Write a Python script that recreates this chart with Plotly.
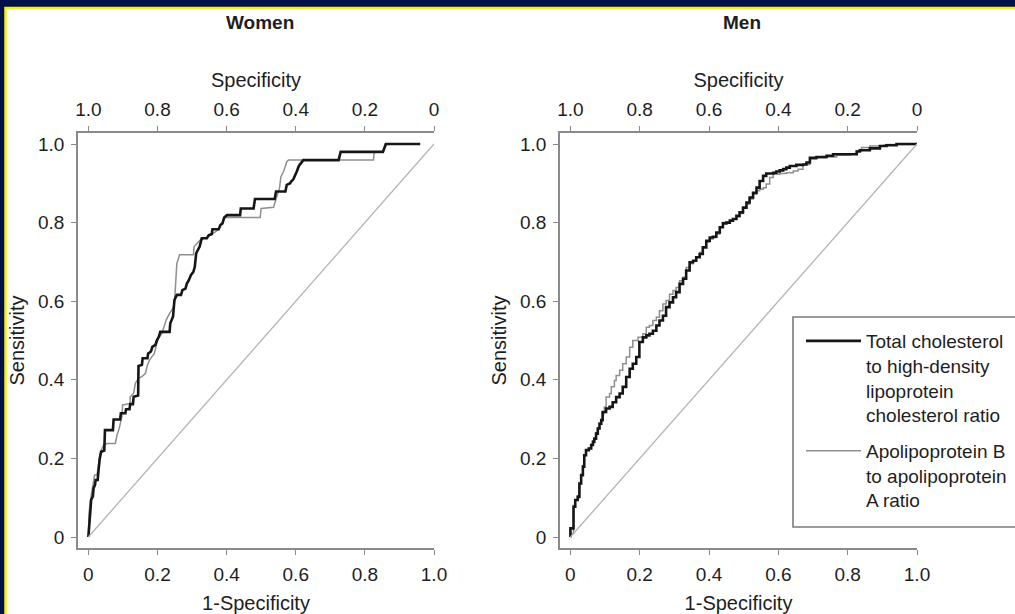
import plotly.graph_objects as go

W, H = 1015, 614

# ---------------- data ----------------
panel_titles = ["Women", "Men"]
series_names = ["Total cholesterol<br>to high-density<br>lipoprotein<br>cholesterol ratio",
                "Apolipoprotein B<br>to apolipoprotein<br>A ratio"]

tick_vals = [0, 0.2, 0.4, 0.6, 0.8, 1.0]
tick_text = ["0", "0.2", "0.4", "0.6", "0.8", "1.0"]
spec_tick_vals = [1.0, 0.8, 0.6, 0.4, 0.2, 0]
spec_tick_text = ["1.0", "0.8", "0.6", "0.4", "0.2", "0"]

# chance line in specificity / sensitivity
diag_spec = [1.0, 0.0]
diag_sens = [0.0, 1.0]

# Women: total cholesterol / HDL ratio
women_tc_fpr = [0, 0.002, 0.006, 0.008, 0.013, 0.015, 0.019, 0.021, 0.027, 0.029, 0.031, 0.033, 0.037, 0.046, 0.048,
                0.071, 0.073, 0.092, 0.094, 0.107, 0.109, 0.119, 0.121, 0.129, 0.131, 0.144, 0.145, 0.155, 0.157,
                0.171, 0.173, 0.181, 0.185, 0.194, 0.198, 0.204, 0.208, 0.235, 0.237, 0.245, 0.249, 0.256, 0.268,
                0.272, 0.281, 0.285, 0.291, 0.297, 0.304, 0.308, 0.312, 0.322, 0.328, 0.343, 0.348, 0.357, 0.359,
                0.377, 0.382, 0.388, 0.393, 0.401, 0.439, 0.441, 0.478, 0.482, 0.539, 0.543, 0.570, 0.574, 0.584,
                0.586, 0.593, 0.599, 0.603, 0.609, 0.618, 0.622, 0.724, 0.730, 0.852, 0.861, 0.960]
women_tc_tpr = [0, 0.035, 0.069, 0.094, 0.103, 0.124, 0.132, 0.145, 0.145, 0.166, 0.187, 0.200, 0.217, 0.220, 0.272,
                0.272, 0.299, 0.299, 0.315, 0.315, 0.325, 0.325, 0.338, 0.338, 0.357, 0.360, 0.435, 0.438, 0.455,
                0.455, 0.467, 0.472, 0.484, 0.489, 0.500, 0.510, 0.522, 0.522, 0.544, 0.561, 0.603, 0.616, 0.616,
                0.628, 0.632, 0.645, 0.654, 0.667, 0.675, 0.688, 0.722, 0.739, 0.760, 0.760, 0.768, 0.771, 0.783,
                0.783, 0.794, 0.798, 0.813, 0.819, 0.819, 0.836, 0.836, 0.860, 0.860, 0.879, 0.879, 0.896, 0.900,
                0.904, 0.910, 0.921, 0.930, 0.944, 0.955, 0.959, 0.959, 0.980, 0.980, 1.0, 1.0]

# Women: apolipoprotein B / A ratio
women_apo_fpr = [0, 0.002, 0.006, 0.011, 0.015, 0.018, 0.025, 0.033, 0.035, 0.044, 0.054, 0.078, 0.083, 0.088, 0.092,
                 0.097, 0.099, 0.121, 0.121, 0.131, 0.136, 0.145, 0.155, 0.165, 0.171, 0.177, 0.184, 0.191, 0.198,
                 0.203, 0.213, 0.218, 0.225, 0.235, 0.245, 0.249, 0.251, 0.256, 0.264, 0.304, 0.306, 0.314, 0.324,
                 0.343, 0.359, 0.377, 0.391, 0.396, 0.497, 0.500, 0.536, 0.540, 0.545, 0.553, 0.557, 0.565, 0.574,
                 0.579, 0.825, 0.827, 0.854, 0.858, 0.960]
women_apo_tpr = [0, 0.060, 0.094, 0.120, 0.145, 0.158, 0.158, 0.204, 0.217, 0.234, 0.238, 0.238, 0.260, 0.272, 0.289,
                 0.306, 0.336, 0.340, 0.357, 0.366, 0.391, 0.404, 0.408, 0.416, 0.438, 0.450, 0.459, 0.467, 0.493,
                 0.506, 0.518, 0.535, 0.552, 0.569, 0.582, 0.595, 0.628, 0.696, 0.718, 0.718, 0.739, 0.747, 0.756,
                 0.763, 0.771, 0.783, 0.808, 0.813, 0.813, 0.836, 0.839, 0.853, 0.866, 0.887, 0.917, 0.930, 0.955,
                 0.959, 0.959, 0.980, 0.980, 1.0, 1.0]

# Men: total cholesterol / HDL ratio
men_tc_fpr = [0, 0, 0.007, 0.009, 0.014, 0.021, 0.026, 0.031, 0.036, 0.040, 0.045, 0.053, 0.060, 0.065, 0.069,
              0.074, 0.079, 0.084, 0.089, 0.093, 0.103, 0.113, 0.122, 0.132, 0.142, 0.151, 0.161, 0.171, 0.180,
              0.190, 0.199, 0.209, 0.219, 0.228, 0.238, 0.248, 0.257, 0.267, 0.276, 0.286, 0.296, 0.305, 0.315,
              0.325, 0.334, 0.344, 0.354, 0.363, 0.373, 0.382, 0.392, 0.402, 0.411, 0.421, 0.431, 0.440, 0.450,
              0.460, 0.469, 0.479, 0.488, 0.498, 0.508, 0.517, 0.527, 0.537, 0.546, 0.556, 0.565, 0.575, 0.585,
              0.594, 0.604, 0.614, 0.623, 0.633, 0.652, 0.671, 0.681, 0.691, 0.710, 0.739, 0.758, 0.787, 0.816,
              0.826, 0.835, 0.864, 0.893, 0.912, 0.941, 1.0]
men_tc_tpr = [0, 0.022, 0.022, 0.077, 0.094, 0.102, 0.136, 0.157, 0.179, 0.208, 0.221, 0.225, 0.234, 0.242, 0.250,
              0.263, 0.276, 0.288, 0.297, 0.318, 0.327, 0.331, 0.343, 0.356, 0.365, 0.382, 0.407, 0.428, 0.441,
              0.458, 0.496, 0.508, 0.513, 0.517, 0.525, 0.538, 0.551, 0.563, 0.585, 0.597, 0.610, 0.623, 0.644,
              0.657, 0.678, 0.699, 0.703, 0.712, 0.720, 0.737, 0.754, 0.762, 0.764, 0.775, 0.788, 0.798, 0.800,
              0.805, 0.809, 0.817, 0.826, 0.838, 0.851, 0.864, 0.876, 0.889, 0.906, 0.919, 0.925, 0.925, 0.927,
              0.930, 0.933, 0.936, 0.940, 0.944, 0.947, 0.948, 0.953, 0.965, 0.967, 0.970, 0.974, 0.974, 0.974,
              0.981, 0.984, 0.989, 0.995, 0.997, 1.0, 1.0]

# Men: apolipoprotein B / A ratio
men_apo_fpr = [0, 0.002, 0.009, 0.014, 0.021, 0.026, 0.031, 0.036, 0.040, 0.045, 0.053, 0.060, 0.065, 0.069, 0.074,
               0.079, 0.084, 0.089, 0.093, 0.098, 0.103, 0.113, 0.118, 0.127, 0.132, 0.142, 0.151, 0.161, 0.171,
               0.180, 0.195, 0.209, 0.219, 0.228, 0.238, 0.248, 0.257, 0.267, 0.276, 0.286, 0.296, 0.305, 0.315,
               0.325, 0.334, 0.344, 0.354, 0.363, 0.373, 0.382, 0.392, 0.402, 0.411, 0.421, 0.431, 0.440, 0.450,
               0.460, 0.469, 0.479, 0.488, 0.498, 0.508, 0.517, 0.527, 0.537, 0.546, 0.556, 0.565, 0.575, 0.585,
               0.604, 0.623, 0.643, 0.657, 0.671, 0.691, 0.710, 0.739, 0.768, 0.806, 0.826, 0.840, 0.864, 0.903,
               0.912, 1.0]
men_apo_tpr = [0, 0.009, 0.080, 0.094, 0.105, 0.136, 0.160, 0.181, 0.208, 0.221, 0.226, 0.236, 0.245, 0.252, 0.265,
               0.278, 0.290, 0.300, 0.314, 0.331, 0.356, 0.365, 0.382, 0.398, 0.411, 0.424, 0.441, 0.458, 0.483,
               0.500, 0.508, 0.517, 0.534, 0.538, 0.551, 0.559, 0.576, 0.593, 0.602, 0.618, 0.627, 0.635, 0.652,
               0.661, 0.686, 0.695, 0.703, 0.712, 0.724, 0.737, 0.750, 0.758, 0.762, 0.771, 0.788, 0.800, 0.800,
               0.806, 0.809, 0.815, 0.823, 0.837, 0.847, 0.860, 0.872, 0.881, 0.885, 0.889, 0.898, 0.915, 0.923,
               0.925, 0.927, 0.931, 0.936, 0.948, 0.961, 0.965, 0.967, 0.972, 0.974, 0.982, 0.991, 0.995, 0.997,
               0.999, 1.0]

# ---------------- styling ----------------
FONT = "Liberation Sans, Arial, Helvetica, sans-serif"
TXT = "#1e1e1e"
AXC = "#8a8a8a"
BLACK = "#161616"
GREY = "#8f8f8f"
DIAG = "#b4b4b4"
NAVY = "#00114a"
YELLOW = "#f2ef1a"


def px_x(p):
    return p / W


def px_y(p):
    return 1 - p / H


panels = [
    dict(name=panel_titles[0], x="x", top="x3", y="y",
         tc=(women_tc_fpr, women_tc_tpr), apo=(women_apo_fpr, women_apo_tpr), legend=False, shape="linear"),
    dict(name=panel_titles[1], x="x2", top="x4", y="y2",
         tc=(men_tc_fpr, men_tc_tpr), apo=(men_apo_fpr, men_apo_tpr), legend=True, shape="hv"),
]

fig = go.Figure()
for p in panels:
    fig.add_trace(go.Scatter(x=diag_spec, y=diag_sens, xaxis=p["top"], yaxis=p["y"], mode="lines",
                             line=dict(color=DIAG, width=1.3), showlegend=False, hoverinfo="skip"))
for p in panels:
    fig.add_trace(go.Scatter(x=p["apo"][0], y=p["apo"][1], xaxis=p["x"], yaxis=p["y"], mode="lines",
                             line=dict(color=GREY, width=1.5, shape=p["shape"]), name=series_names[1],
                             legendgroup="apo", showlegend=p["legend"], legendrank=2))
    fig.add_trace(go.Scatter(x=p["tc"][0], y=p["tc"][1], xaxis=p["x"], yaxis=p["y"], mode="lines",
                             line=dict(color=BLACK, width=2.6, shape=p["shape"]), name=series_names[0],
                             legendgroup="tc", showlegend=p["legend"], legendrank=1))

y_dom = [px_y(548), px_y(133)]
x_doms = [[px_x(78), px_x(434)], [px_x(560), px_x(917)]]
x_rng = [-0.030, 1.0]
y_rng = [-0.028, 1.028]

common_ticks = dict(showline=True, linecolor=AXC, linewidth=1.5, ticks="outside", ticklen=5, tickcolor=AXC,
                    tickwidth=1.3, showgrid=False, zeroline=False, tickfont=dict(family=FONT, size=19, color=TXT),
                    fixedrange=True)

layout_axes = {}
for i, (xa, ta, ya) in enumerate([("xaxis", "xaxis3", "yaxis"), ("xaxis2", "xaxis4", "yaxis2")]):
    yref = "y" if i == 0 else "y2"
    xref = "x" if i == 0 else "x2"
    layout_axes[xa] = dict(domain=x_doms[i], anchor=yref, range=x_rng, tickvals=tick_vals, ticktext=tick_text,
                           title=dict(text="1-Specificity", font=dict(family=FONT, size=20, color=TXT), standoff=12),
                           ticklabelstandoff=3, **common_ticks)
    layout_axes[ta] = dict(overlaying=xref, anchor=yref, side="top", range=[1 - x_rng[0], 0],
                           tickvals=spec_tick_vals, ticktext=spec_tick_text,
                           title=dict(text="Specificity", font=dict(family=FONT, size=20, color=TXT), standoff=6),
                           ticklabelstandoff=3, **common_ticks)
    layout_axes[ya] = dict(domain=y_dom, anchor=xref, range=y_rng, tickvals=tick_vals,
                           ticktext=["0", "0.2", "0.4", "0.6", "0.8", "1.0"],
                           title=dict(text="Sensitivity", font=dict(family=FONT, size=20, color=TXT), standoff=8),
                           ticklabelstandoff=3, **common_ticks)

annotations = [
    dict(text=panel_titles[0], x=px_x(260), y=px_y(22), xref="paper", yref="paper", showarrow=False,
         font=dict(family=FONT, size=19, color=TXT, weight="bold"), xanchor="center", yanchor="middle"),
    dict(text=panel_titles[1], x=px_x(742), y=px_y(22), xref="paper", yref="paper", showarrow=False,
         font=dict(family=FONT, size=19, color=TXT, weight="bold"), xanchor="center", yanchor="middle"),
]

shapes = [
    # white page with a yellow rule on the navy slide background
    dict(type="rect", xref="paper", yref="paper", x0=px_x(5.5), x1=px_x(1040), y0=px_y(8), y1=px_y(640),
         fillcolor="white", line=dict(color=YELLOW, width=2.5), layer="below"),
    # legend frame
    dict(type="rect", xref="paper", yref="paper", x0=px_x(793), x1=px_x(1040), y0=px_y(317), y1=px_y(527),
         fillcolor="white", line=dict(color="#7a7a7a", width=1.6), layer="above"),
]

fig.update_layout(
    width=W, height=H,
    margin=dict(l=0, r=0, t=0, b=0, pad=0, autoexpand=False),
    paper_bgcolor=NAVY, plot_bgcolor="rgba(0,0,0,0)",
    font=dict(family=FONT, color=TXT),
    showlegend=True,
    legend=dict(x=px_x(801), y=px_y(322), xanchor="left", yanchor="top", bgcolor="rgba(0,0,0,0)",
                borderwidth=0, font=dict(family=FONT, size=19, color=TXT), itemwidth=55, valign="top",
                tracegroupgap=8, traceorder="grouped"),
    annotations=annotations,
    shapes=shapes,
    hovermode=False,
    **layout_axes,
)

fig.write_html("out.html", config={"displayModeBar": False},
               post_script="document.body.style.margin='0';document.body.style.overflow='hidden';")
